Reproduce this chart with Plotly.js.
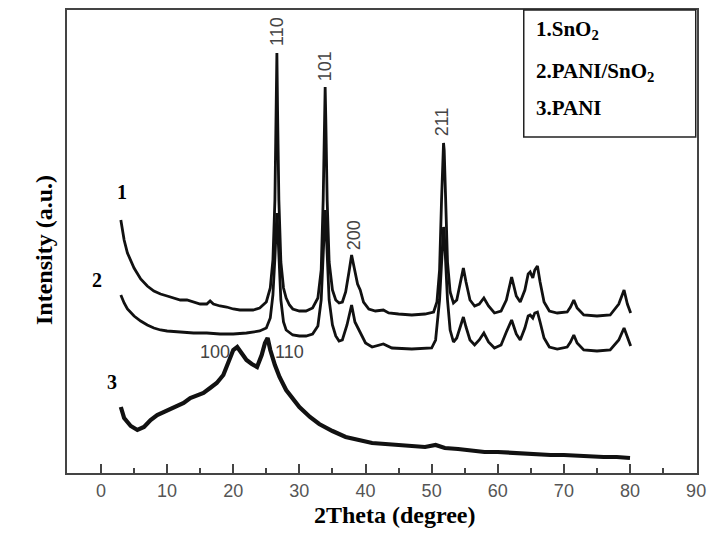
<!DOCTYPE html>
<html>
<head>
<meta charset="utf-8">
<script src="https://cdn.plot.ly/plotly-3.0.1.min.js"></script>
<style>html,body{margin:0;padding:0;background:#fff;}#chart{width:716px;height:549px;}</style>
</head>
<body>
<div id="chart"></div>
<script>
// ---- Data (2Theta in degrees, intensity in a.u.) ----
const sno2X = [3.0,3.5,4.0,5.0,6.0,7.0,8.0,9.0,10,11,12,13,14,15,16,16.5,17,18,19,20,21,22,23,24,25,25.6,26.0,26.3,26.5,26.6,26.7,26.9,27.2,27.6,28.0,28.5,29.0,30,31,32,32.8,33.3,33.6,33.8,33.9,34.0,34.2,34.5,35.0,35.5,36.0,36.5,37.0,37.5,37.9,38.3,38.8,39.2,39.7,40.5,41.5,42.7,43.5,45,47,49,50.3,50.8,51.2,51.5,51.7,51.8,51.9,52.1,52.4,52.8,53.3,53.8,54.4,54.8,55.2,55.8,56.5,57.2,57.9,58.6,59.5,60.5,61.3,62.1,62.8,63.4,64.1,64.6,64.9,65.3,65.6,66.0,66.4,67.0,67.8,69,70.5,71.0,71.5,72.0,73,75,77,78.3,79.1,79.6,80.1];
const sno2Y = [253,233,220,205,194,187,182,179,177,175,173,173,171,169,169,172,169,167,166,164,163,163,163,165,171,185,213,273,353,420,363,273,211,185,175,168,164,162,162,165,175,203,273,353,386,353,273,211,183,173,170,171,181,201,218,205,189,183,171,164,162,163,160,159,158,159,161,171,203,273,323,330,323,273,211,181,170,173,191,205,191,173,167,169,175,167,160,162,173,196,177,171,183,199,201,195,203,207,191,171,162,160,161,166,173,165,158,157,158,169,183,169,160];

const compX = [3.0,3.5,4.0,5.0,6.0,7.0,8.0,9.0,10,12,14,16,18,20,22,24,25.0,25.6,26.0,26.3,26.5,26.6,26.7,26.9,27.2,27.6,28.0,29,30,31,32,32.8,33.3,33.6,33.8,33.9,34.0,34.2,34.5,35.0,35.5,36,36.5,37.2,37.9,38.4,39.2,40,41,42.7,44,47,50,50.6,51.2,51.5,51.7,51.8,51.9,52.1,52.4,52.8,53.3,53.8,54.4,54.8,55.2,55.8,56.5,57.2,57.9,58.6,59.5,60.5,61.3,62.1,62.8,63.4,64.1,64.6,64.9,65.3,65.6,66.0,66.4,67.0,67.8,69,70.5,71.0,71.5,72.0,73,75,77,78.3,79.1,79.6,80.1];
const compY = [178,170,164,157,152,148,145,143,142,141,140,140,139,139,140,142,145,155,178,215,248,260,248,211,173,151,143,138,137,137,139,147,173,218,253,263,251,215,173,148,137,132,133,148,168,151,140,130,126,129,125,124,125,133,173,218,241,246,241,213,173,143,131,135,148,156,146,133,128,133,140,131,125,128,141,153,139,133,145,157,158,155,160,161,151,135,126,124,126,131,138,130,123,122,123,133,145,135,127];

const paniX = [3.0,3.5,4.5,5.5,6.5,7.5,8.5,9.5,10.5,11.5,12.5,13.5,14.5,15.5,16.5,17.5,18.5,19.3,20.0,20.6,21.2,22.0,22.8,23.6,24.3,24.8,25.2,25.6,26.3,27.0,28.0,29.0,30.0,31.6,33,35,37,39,41,43,45,47,49,50.6,52,54,56,58,60,62,64,66,68,70,72,74,76,78,80];
const paniY = [66,55,47,43,46,53,58,61,63,66,70,75,77,80,85,90,98,111,123,126,121,113,109,106,118,130,135,123,108,96,83,74,66,56,49,42,36,33,30,29,28,27,26,28,25,24,22,21,21,20,19,19,18,18,17,17,16,16,15];

const xTickVals = [0,10,20,30,40,50,60,70,80,90];
const xTickText = ["0","10","20","30","40","50","60","70","80","90"];

const curveLabels = ["1","2","3"];
const legendLines = ["1.SnO<sub>2</sub>","2.PANI/SnO<sub>2</sub>","3.PANI"];
const peakLabels = ["110","101","200","211"];
const peakLabelX = [26.6,33.9,38.3,51.6];
const paniPeakLabels = ["100","110"];

// ---- Plot ----
const lineStyle = {color:'#111', width:2.8, shape:'linear'};
const traces = [
  {x:sno2X, y:sno2Y, mode:'lines', line:lineStyle, name:'SnO2', hoverinfo:'skip'},
  {x:compX, y:compY, mode:'lines', line:lineStyle, name:'PANI/SnO2', hoverinfo:'skip'},
  {x:paniX, y:paniY, mode:'lines', line:{color:'#111', width:4.2}, name:'PANI', hoverinfo:'skip'}
];

const serif = 'Liberation Serif, Times New Roman, serif';
const sans = 'Liberation Sans, Arial, sans-serif';
const ann = [];
// peak labels (rotated)
const peakY = [442,407,238,351];
peakLabels.forEach((t,i)=>ann.push({x:peakLabelX[i], y:peakY[i], xref:'x', yref:'y', text:t, showarrow:false, textangle:-90,
  font:{family:sans, size:18, color:'#444'}}));
// PANI peak labels
const paniLblX = [17.3,28.5];
paniPeakLabels.forEach((t,i)=>ann.push({x:paniLblX[i], y:121, xref:'x', yref:'y', text:t, showarrow:false,
  font:{family:sans, size:18, color:'#444'}}));
// curve number labels
const clX = [3.2,-0.6,1.7], clY = [281,193,91];
curveLabels.forEach((t,i)=>ann.push({x:clX[i], y:clY[i], xref:'x', yref:'y', text:'<b>'+t+'</b>', showarrow:false,
  font:{family:serif, size:20, color:'#000'}}));
// legend lines
const lgY = [0.957,0.866,0.788];
legendLines.forEach((t,i)=>ann.push({x:0.742, y:lgY[i], xref:'paper', yref:'paper', xanchor:'left', yanchor:'middle', text:'<b>'+t+'</b>', showarrow:false,
  font:{family:serif, size:21, color:'#000'}}));
// axis titles
ann.push({x:0.5206, y:-0.123, xref:'paper', yref:'paper', text:'<b>2Theta (degree)</b>', showarrow:false,
  font:{family:serif, size:24, color:'#000'}});
ann.push({x:-0.0603, y:0.4816, xref:'paper', yref:'paper', text:'<b>Intensity (a.u.)</b>', showarrow:false, textangle:-90,
  font:{family:serif, size:24, color:'#000'}});

const layout = {
  width:716, height:549,
  margin:{l:67, r:19, t:10, b:76},
  paper_bgcolor:'#fff', plot_bgcolor:'#fff',
  showlegend:false,
  xaxis:{range:[-5.14,90.13], tickvals:xTickVals, ticktext:xTickText, ticks:'inside', ticklen:9, tickwidth:2, tickcolor:'#444',
    minor:{dtick:5, tick0:0, ticks:'inside', ticklen:5, tickwidth:2, tickcolor:'#444', showgrid:false},
    showgrid:false, zeroline:false, showline:true, linecolor:'#444', linewidth:2, mirror:true,
    tickfont:{family:sans, size:18, color:'#555'}},
  yaxis:{range:[0,463], showticklabels:false, ticks:'', showgrid:false, zeroline:false, showline:true, linecolor:'#444', linewidth:2, mirror:true},
  shapes:[{type:'rect', xref:'paper', yref:'paper', x0:0.725, x1:0.998, y0:0.7257, y1:1, line:{color:'#222', width:1.5}, fillcolor:'rgba(255,255,255,0)'}],
  annotations:ann
};

Plotly.newPlot('chart', traces, layout, {staticPlot:true, displayModeBar:false});
</script>
</body>
</html>
